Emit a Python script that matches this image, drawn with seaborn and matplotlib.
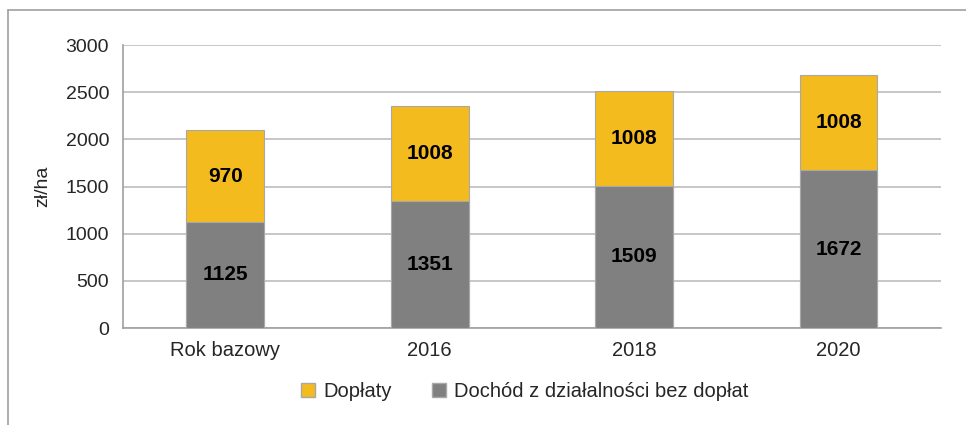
import matplotlib
matplotlib.use("Agg")
import matplotlib.pyplot as plt
import seaborn as sns
import pandas as pd
from matplotlib.lines import Line2D
from matplotlib.patches import Patch

# dane
kategorie = ["Rok bazowy", "2016", "2018", "2020"]
dochod = [1125, 1351, 1509, 1672]
doplaty = [970, 1008, 1008, 1008]

df = pd.DataFrame({"kat": kategorie, "dochod": dochod, "doplaty": doplaty})
df["suma"] = df["dochod"] + df["doplaty"]

sns.set_style("white")
plt.rcParams["font.family"] = ["Liberation Sans", "DejaVu Sans"]

kolor_zolty = "#F4BB1F"
kolor_szary = "#808080"
kolor_linii = "#BDBDBD"

fig = plt.figure(figsize=(9.66, 4.25), dpi=100)
ax = fig.add_axes([0.1273, 0.2282, 0.8467, 0.6658])

# górna część (dopłaty) jako suma, dolna (dochód) nałożona
sns.barplot(data=df, x="kat", y="suma", color=kolor_zolty, saturation=1,
            width=0.38, edgecolor="#A8A8A8", linewidth=0.8, ax=ax, zorder=3)
sns.barplot(data=df, x="kat", y="dochod", color=kolor_szary, saturation=1,
            width=0.38, edgecolor="#A8A8A8", linewidth=0.8, ax=ax, zorder=4)

for i, row in df.iterrows():
    ax.text(i, row["dochod"] / 2, f"{row['dochod']}", ha="center", va="center",
            fontsize=15, fontweight="bold", color="black", zorder=5)
    ax.text(i, row["dochod"] + row["doplaty"] / 2, f"{row['doplaty']}", ha="center",
            va="center", fontsize=15, fontweight="bold", color="black", zorder=5)

ax.set_ylim(0, 3000)
ax.set_xlim(-0.5, 3.5)
ax.set_yticks(range(0, 3001, 500))
ax.yaxis.grid(True, color=kolor_linii, linewidth=1.2, zorder=0)
ax.set_axisbelow(True)

ax.set_xlabel("")
ax.set_ylabel("zł/ha", fontsize=14, labelpad=10)
ax.tick_params(axis="y", labelsize=14, length=5, color="#A0A0A0", width=1, pad=5)
ax.tick_params(axis="x", which="major", labelsize=14.5, length=0, pad=9)
ax.set_xticks([-0.5, 0.5, 1.5, 2.5, 3.5], minor=True)
ax.tick_params(axis="x", which="minor", length=5, color="#A0A0A0", width=1)

for s in ["top", "right"]:
    ax.spines[s].set_visible(False)
for s in ["left", "bottom"]:
    ax.spines[s].set_color("#A0A0A0")
    ax.spines[s].set_linewidth(1.2)

uchwyty = [Patch(facecolor=kolor_zolty, edgecolor="#A8A8A8"),
           Patch(facecolor=kolor_szary, edgecolor="#A8A8A8")]
fig.legend(uchwyty, ["Dopłaty", "Dochód z działalności bez dopłat"],
           loc="center", bbox_to_anchor=(0.543, 0.078), ncol=2, frameon=False,
           fontsize=14.5, handlelength=0.7, handleheight=0.7, handletextpad=0.4,
           columnspacing=2.0)

# ramka wykresu (lewa i górna krawędź)
x0, y0 = 8 / 966, 1 - 10 / 425
fig.add_artist(Line2D([x0, 1], [y0, y0], color="#A0A0A0", linewidth=1.2))
fig.add_artist(Line2D([x0, x0], [0, y0], color="#A0A0A0", linewidth=1.2))

fig.savefig("out.png", dpi=100)
